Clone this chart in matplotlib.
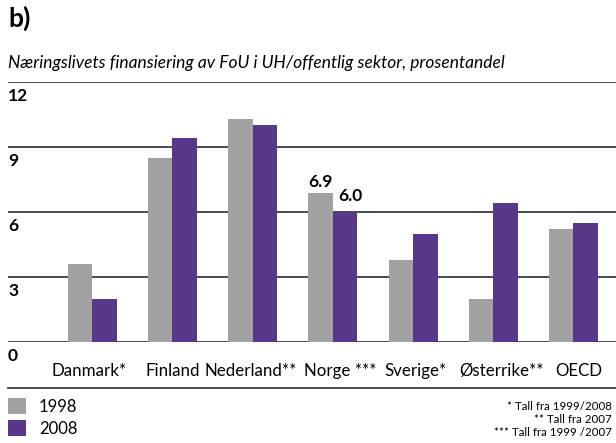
import numpy as np
import matplotlib
matplotlib.use('Agg')
import matplotlib.pyplot as plt
import matplotlib.transforms as mtransforms
from matplotlib.patches import Patch
from matplotlib.lines import Line2D

plt.rcParams['font.family'] = ['Lato', 'DejaVu Sans']

# --- data ---
countries = ["Danmark*", "Finland", "Nederland**", "Norge ***", "Sverige*", "Østerrike**", "OECD"]
v1998 = [3.6, 8.5, 10.3, 6.9, 3.8, 2.0, 5.2]
v2008 = [2.0, 9.4, 10.0, 6.0, 5.0, 6.4, 5.5]
years = ["1998", "2008"]
yticks = [0, 3, 6, 9, 12]
footnotes = ["* Tall fra 1999/2008", "** Tall fra 2007", "*** Tall fra 1999 /2007"]

gray = "#a2a2a4"
purple = "#573889"
W, H = 616, 443

fig = plt.figure(figsize=(W / 100, H / 100), dpi=100)
ax = fig.add_axes([8 / W, 1 - 342 / H, 1 - 8 / W, (342 - 82) / H])

x = np.arange(len(countries))
bw = 0.305
ax.bar(x - bw / 2, v1998, bw, color=gray, zorder=2)
ax.bar(x + bw / 2, v2008, bw, color=purple, zorder=2)

ax.set_xlim(-1.05, 6.53)
ax.set_ylim(0, 12)
ax.set_yticks(yticks)
ax.yaxis.grid(True, color="#3c3c3c", lw=1.3)
ax.set_axisbelow(True)
for s in ax.spines.values():
    s.set_visible(False)
ax.tick_params(axis='y', length=0, labelleft=False)
ax.set_xticks(x)
ax.set_xticklabels(countries, fontsize=12.2)
ax.tick_params(axis='x', length=0, pad=15)

# nudge a few labels sideways like in the original layout
nudges = {"Danmark*": -3, "Nederland**": -2, "Norge ***": 7, "Sverige*": 2, "Østerrike**": 8, "OECD": 5}
for lbl in ax.get_xticklabels():
    dx = nudges.get(lbl.get_text(), 0)
    if dx:
        lbl.set_transform(lbl.get_transform() +
                          mtransforms.ScaledTranslation(dx / 100, 0, fig.dpi_scale_trans))

# y labels sit just below each gridline
for t in yticks:
    ax.annotate(str(t), xy=(0, t), xycoords=ax.get_yaxis_transform(),
                xytext=(0, -10), textcoords='offset points',
                ha='left', va='center', fontsize=12.5, fontweight='bold')

# value labels for Norge
i = countries.index("Norge ***")
ax.annotate(f"{v1998[i]:.1f}", xy=(x[i] - bw / 2, v1998[i]), xytext=(0, 1.5),
            textcoords='offset points', ha='center', va='bottom',
            fontsize=12.5, fontweight='bold')
ax.annotate(f"{v2008[i]:.1f}", xy=(x[i] + bw / 2, v2008[i]), xytext=(4, 6),
            textcoords='offset points', ha='center', va='bottom',
            fontsize=12.5, fontweight='bold')

# titles
fig.text(8 / W, 1 - 18 / H, "b)", fontsize=19, fontweight='bold', va='center', ha='left')
fig.text(8 / W, 1 - 63 / H, "Næringslivets finansiering av FoU i UH/offentlig sektor, prosentandel",
         fontsize=12.5, style='italic', va='center', ha='left')

# separator above legend
fig.add_artist(Line2D([8 / W, 1], [1 - 388 / H] * 2, transform=fig.transFigure,
                      color="#3c3c3c", lw=1.3))

handles = [Patch(facecolor=gray, label=years[0]), Patch(facecolor=purple, label=years[1])]
fig.legend(handles=handles, loc='upper left', bbox_to_anchor=(8 / W, 1 - 398 / H),
           frameon=False, fontsize=12, handlelength=1.1, handleheight=1.1,
           handletextpad=0.75, labelspacing=0.35, borderaxespad=0, borderpad=0)

for k, note in enumerate(footnotes):
    fig.text(1 - 4 / W, 1 - (406 + 13.5 * k) / H, note, fontsize=8.3, ha='right', va='center')

fig.savefig("out.png", dpi=100)
